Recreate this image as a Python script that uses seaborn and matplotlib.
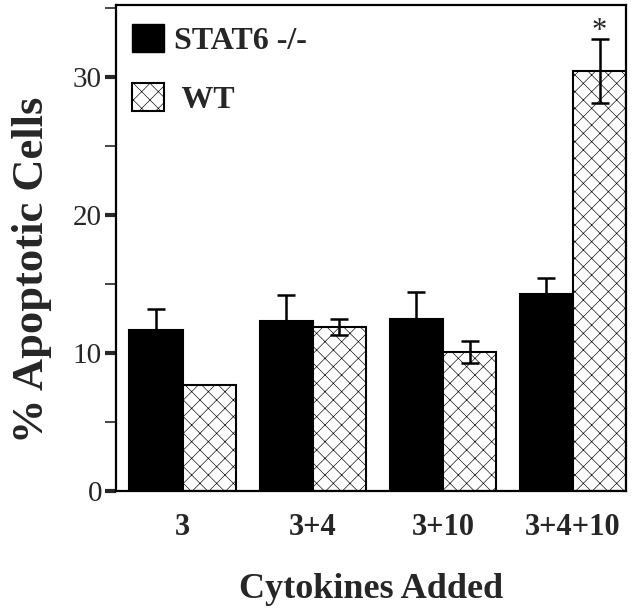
import matplotlib
matplotlib.use("Agg")
import matplotlib.pyplot as plt
import seaborn as sns
import pandas as pd
from matplotlib.patches import Patch
from matplotlib.ticker import MultipleLocator

# data
cytokines = ["3", "3+4", "3+10", "3+4+10"]
stat6_ko = [11.7, 12.3, 12.5, 14.3]
stat6_ko_err = [1.5, 1.9, 1.9, 1.1]
wild_type = [7.7, 11.9, 10.1, 30.4]
wild_type_err = [0.0, 0.6, 0.8, 2.3]
groups = ["STAT6 -/-", "WT"]

df = pd.DataFrame({
    "cytokines": cytokines * 2,
    "pct": stat6_ko + wild_type,
    "genotype": [groups[0]] * 4 + [groups[1]] * 4,
})

sns.set_style("white")
plt.rcParams["font.family"] = ["Liberation Serif", "DejaVu Serif"]
plt.rcParams["hatch.linewidth"] = 0.45

fig = plt.figure(figsize=(6.4, 6.11), dpi=100)
ax = fig.add_axes([0.181, 0.196, 0.797, 0.796])

sns.barplot(data=df, x="cytokines", y="pct", hue="genotype", order=cytokines,
            hue_order=groups, palette={groups[0]: "black", groups[1]: "white"},
            width=0.82, edgecolor="black", linewidth=1.5, legend=False, ax=ax)

# patches come out hue by hue
bars = ax.patches
for p in bars[4:8]:
    p.set_hatch("xx")

for p, v, e in zip(bars[:8], stat6_ko + wild_type, stat6_ko_err + wild_type_err):
    if e > 0:
        ax.errorbar(p.get_x() + p.get_width() / 2, v, yerr=e, color="black",
                    elinewidth=1.8, capsize=6.5, capthick=1.8, zorder=5)

# significance mark over the last WT bar
p = bars[7]
ax.text(p.get_x() + p.get_width() / 2, wild_type[3] + wild_type_err[3] + 0.6, "*",
        ha="center", va="center", fontsize=22)

ax.set_ylim(0, 35.2)
ax.set_xlim(-0.515, 3.408)
ax.yaxis.set_major_locator(MultipleLocator(10))
ax.yaxis.set_minor_locator(MultipleLocator(5))
ax.tick_params(axis="y", which="major", direction="out", length=8, width=3,
               labelsize=21, pad=2, left=True)
ax.tick_params(axis="y", which="minor", direction="out", length=8, width=1.2, left=True)
ax.tick_params(axis="x", length=0, labelsize=22, pad=16)
for lbl in ax.get_xticklabels():
    lbl.set_fontweight("bold")

for s in ax.spines.values():
    s.set_color("black")
    s.set_linewidth(1.6)

ax.set_ylabel("% Apoptotic Cells", fontsize=32, fontweight="bold")
ax.yaxis.set_label_coords(-0.125, 0.455)
ax.set_xlabel("Cytokines Added", fontsize=26, fontweight="bold")
ax.xaxis.set_label_coords(0.5, -0.168)

handles = [Patch(facecolor="black", edgecolor="black"),
           Patch(facecolor="white", edgecolor="black", hatch="xx", linewidth=1.5)]
ax.legend(handles, ["STAT6 -/-", " WT"], loc="upper left", frameon=False,
          prop={"size": 23, "weight": "bold"}, handlelength=1.0, handleheight=0.95,
          handletextpad=0.3, labelspacing=0.85, borderaxespad=0.2,
          bbox_to_anchor=(-0.005, 1.0))

fig.savefig("out.png", dpi=100)
